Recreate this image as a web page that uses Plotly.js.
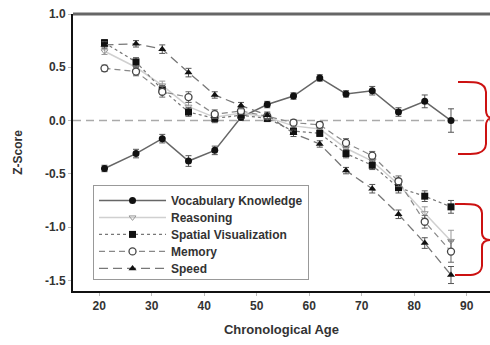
<!DOCTYPE html>
<html><head><meta charset="utf-8">
<script src="https://cdn.plot.ly/plotly-3.0.1.min.js"></script>
<style>html,body{margin:0;padding:0;background:#fff}#chart{width:490px;height:345px}</style>
</head><body><div id="chart"></div>
<script>
const ages = [21,27,32,37,42,47,52,57,62,67,72,77,82,87];
const vocab = [-0.45,-0.31,-0.17,-0.38,-0.28,0.03,0.15,0.23,0.40,0.25,0.28,0.08,0.18,0.00];
const reasoning = [0.65,0.50,0.33,0.13,0.03,0.07,0.03,-0.05,-0.08,-0.26,-0.38,-0.60,-0.87,-1.13];
const spatial = [0.73,0.55,0.29,0.08,0.02,0.05,0.02,-0.10,-0.12,-0.31,-0.42,-0.63,-0.71,-0.81];
const memory = [0.49,0.46,0.27,0.22,0.06,0.09,0.04,-0.02,-0.04,-0.21,-0.33,-0.57,-0.95,-1.23];
const speed = [0.71,0.72,0.67,0.45,0.24,0.14,0.05,-0.12,-0.22,-0.47,-0.64,-0.88,-1.15,-1.45];
const vocabErr = [0.03,0.04,0.04,0.05,0.04,0.03,0.03,0.03,0.03,0.03,0.04,0.04,0.06,0.11];
const reasoningErr = [0.03,0.04,0.04,0.04,0.04,0.03,0.03,0.03,0.03,0.04,0.04,0.05,0.06,0.10];
const spatialErr = [0.03,0.04,0.04,0.04,0.04,0.03,0.03,0.03,0.03,0.04,0.04,0.05,0.05,0.06];
const memoryErr = [0.03,0.04,0.05,0.05,0.04,0.03,0.03,0.03,0.03,0.04,0.04,0.05,0.06,0.10];
const speedErr = [0.03,0.03,0.04,0.04,0.03,0.03,0.03,0.03,0.03,0.03,0.04,0.04,0.05,0.08];
const names = ['Vocabulary Knowledge','Reasoning','Spatial Visualization','Memory','Speed'];
const xTicks = [20,30,40,50,60,70,80,90];
const yTicks = [-1.5,-1.0,-0.5,0.0,0.5,1.0];

const F = 'Liberation Sans, Arial, sans-serif';
function err(a, c){return {type:'data', array:a, visible:true, color:c, thickness:1, width:3};}
const traces = [
  {x:ages, y:vocab, name:names[0], mode:'lines+markers', error_y:err(vocabErr,'#555'),
   line:{color:'#666', width:1.5, dash:'solid'}, marker:{symbol:'circle', size:7, color:'#111'}},
  {x:ages, y:reasoning, name:names[1], mode:'lines+markers', error_y:err(reasoningErr,'#999'),
   line:{color:'#d0d0d0', width:1.5, dash:'solid'}, marker:{symbol:'triangle-down-open', size:6, color:'#999', line:{width:1}}},
  {x:ages, y:spatial, name:names[2], mode:'lines+markers', error_y:err(spatialErr,'#555'),
   line:{color:'#777', width:1.2, dash:'3px,3px'}, marker:{symbol:'square', size:7, color:'#111'}},
  {x:ages, y:memory, name:names[3], mode:'lines+markers', error_y:err(memoryErr,'#666'),
   line:{color:'#888', width:1.2, dash:'6px,4px'}, marker:{symbol:'circle', size:7, color:'#fff', line:{color:'#444', width:1.3}}},
  {x:ages, y:speed, name:names[4], mode:'lines+markers', error_y:err(speedErr,'#555'),
   line:{color:'#777', width:1.3, dash:'9px,5px'}, marker:{symbol:'triangle-up', size:7, color:'#111'}}
];

function px(x){return ((x-73)/417).toFixed(4);}
function py(y){return ((291-y)/277).toFixed(4);}
function brace(pts){
  return pts.map(s => s[0] + s.slice(1).map(p => px(p[0])+','+py(p[1])).join(' ')).join(' ');
}
const brace1 = brace([['M',[458,82]],['C',[471,82],[485,80],[486,92]],['L',[486,110]],['C',[486,116],[488,118],[493,118]],
  ['M',[493,118]],['C',[488,118],[486,120],[486,126]],['L',[486,144]],['C',[485,156],[471,154],[458,154]]]);
const brace2 = brace([['M',[455,204]],['C',[468,204],[481,202],[482,213]],['L',[482,233]],['C',[482,238],[485,240],[491,240]],
  ['M',[491,240]],['C',[485,240],[482,242],[482,247]],['L',[482,266]],['C',[481,277],[468,275],[455,275]]]);

const layout = {
  width:490, height:345,
  margin:{l:73, r:0, t:14, b:54},
  paper_bgcolor:'#fff', plot_bgcolor:'#fff',
  font:{family:F, color:'#222', size:12, weight:'bold'},
  showlegend:true,
  legend:{x:0.048, y:0.383, xanchor:'left', yanchor:'top', bgcolor:'#fff', bordercolor:'#999', borderwidth:1,
    font:{family:F, size:12, color:'#333', weight:'bold'}, itemwidth:67, tracegroupgap:0},
  xaxis:{range:[15,94.43], tickvals:xTicks, ticktext:xTicks.map(String), showgrid:false, zeroline:false,
    showline:true, linecolor:'#111', linewidth:2, ticks:'outside', ticklen:3, tickcolor:'#bbb',
    tickfont:{family:F, size:12, color:'#333', weight:'bold'},
    title:{text:'Chronological Age', font:{family:F, size:13, color:'#333', weight:'bold'}, standoff:12}},
  yaxis:{range:[-1.6,1.0], tickvals:yTicks, ticktext:yTicks.map(v=>v.toFixed(1)), showgrid:false, zeroline:false,
    showline:true, linecolor:'#111', linewidth:2, ticks:'outside', ticklen:3, tickcolor:'#bbb',
    tickfont:{family:F, size:12, color:'#333', weight:'bold'},
    title:{text:'Z-Score', font:{family:F, size:12, color:'#333', weight:'bold'}, standoff:20}},
  shapes:[
    {type:'line', xref:'paper', yref:'y', x0:0, x1:1, y0:0, y1:0, layer:'below', line:{color:'#aaa', width:1.5, dash:'8px,5px'}},
    {type:'line', xref:'paper', yref:'paper', x0:0, x1:1, y0:1, y1:1, line:{color:'#666', width:3}},
    {type:'path', xref:'paper', yref:'paper', path:brace1, line:{color:'#cc1111', width:2}},
    {type:'path', xref:'paper', yref:'paper', path:brace2, line:{color:'#cc1111', width:2}}
  ]
};
Plotly.newPlot('chart', traces, layout, {staticPlot:true, displayModeBar:false}).then(function(gd){
  try {
    const items = gd.querySelectorAll('.legend .traces');
    let y0 = null;
    items.forEach(function(g, i){
      const t = g.getAttribute('transform') || '';
      const m = t.match(/translate\(\s*([-\d.]+)[ ,]+([-\d.]+)\s*\)/);
      if (!m) return;
      if (y0 === null) y0 = parseFloat(m[2]);
      g.setAttribute('transform', 'translate(' + m[1] + ',' + (y0 + i*17) + ')');
    });
    const bg = gd.querySelector('.legend rect.bg');
    if (bg) { bg.setAttribute('height', 94); bg.setAttribute('width', 215); }
  } catch(e) {}
});
</script></body></html>
